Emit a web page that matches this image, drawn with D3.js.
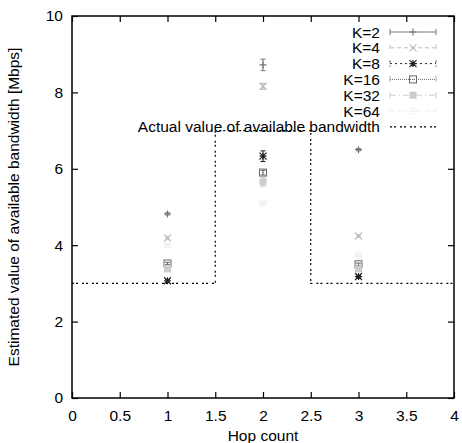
<!DOCTYPE html>
<html>
<head>
<meta charset="utf-8">
<script src="https://cdn.jsdelivr.net/npm/d3@7"></script>
<style>
    body { margin: 0; background: #fff; }
    text { font-family: "Liberation Sans", Arial, sans-serif; }
</style>
</head>
<body>
<script>
//hop count categories
var hops = [1, 2, 3];

//series labels
var seriesNames = ["K=2", "K=4", "K=8", "K=16", "K=32", "K=64"];

//estimated values per series (one per hop)
var k2 = [4.82, 8.72, 6.50],
    k4 = [4.19, 8.16, 4.24],
    k8 = [3.07, 6.33, 3.18],
    k16 = [3.52, 5.90, 3.50],
    k32 = [3.38, 5.66, 3.38],
    k64 = [4.02, 5.10, 3.73];

//error half widths per series
var k2Err = [0.03, 0.15, 0.03],
    k4Err = [0.03, 0.08, 0.03],
    k8Err = [0.03, 0.14, 0.03],
    k16Err = [0.03, 0.06, 0.03],
    k32Err = [0.05, 0.12, 0.05],
    k64Err = [0.02, 0.03, 0.02];

//actual available bandwidth (step line)
var actualX = [0, 1.5, 1.5, 2.5, 2.5, 4],
    actualY = [3, 3, 7, 7, 3, 3];

//tick values
var xTicks = [0, 0.5, 1, 1.5, 2, 2.5, 3, 3.5, 4],
    yTicks = [0, 2, 4, 6, 8, 10];

var width = 462, height = 443;
var margin = {left: 72, right: 8, top: 16, bottom: 45};
var fontSize = 15.5;

var svg = d3.select("body").append("svg")
    .attr("width", width)
    .attr("height", height);

var x = d3.scaleLinear().domain([0, 4]).range([margin.left, width - margin.right]);
var y = d3.scaleLinear().domain([0, 10]).range([height - margin.bottom, margin.top]);

//series styles
var styles = [
    {color: "#777", dash: null, marker: "plus"},
    {color: "#bbb", dash: "4,3", marker: "cross"},
    {color: "#222", dash: "2,3", marker: "star"},
    {color: "#666", dash: "1,1", marker: "square"},
    {color: "#ccc", dash: "6,3,1,3", marker: "fsquare"},
    {color: "#eee", dash: "4,3", marker: "circle"}
];

var values = [k2, k4, k8, k16, k32, k64];
var errs = [k2Err, k4Err, k8Err, k16Err, k32Err, k64Err];

function drawMarker(g, type, cx, cy, color){
    var s = 3.5;
    if (type == "plus"){
        g.append("path").attr("d", "M" + (cx - s) + "," + cy + "H" + (cx + s) + "M" + cx + "," + (cy - s) + "V" + (cy + s))
            .attr("stroke", color).attr("stroke-width", 1.2).attr("fill", "none");
    } else if (type == "cross"){
        g.append("path").attr("d", "M" + (cx - s) + "," + (cy - s) + "L" + (cx + s) + "," + (cy + s) + "M" + (cx - s) + "," + (cy + s) + "L" + (cx + s) + "," + (cy - s))
            .attr("stroke", color).attr("stroke-width", 1.2).attr("fill", "none");
    } else if (type == "star"){
        g.append("path").attr("d", "M" + (cx - s) + "," + cy + "H" + (cx + s) + "M" + cx + "," + (cy - s) + "V" + (cy + s) +
                "M" + (cx - s) + "," + (cy - s) + "L" + (cx + s) + "," + (cy + s) + "M" + (cx - s) + "," + (cy + s) + "L" + (cx + s) + "," + (cy - s))
            .attr("stroke", color).attr("stroke-width", 1.2).attr("fill", "none");
    } else if (type == "square"){
        g.append("rect").attr("x", cx - s).attr("y", cy - s).attr("width", 2 * s).attr("height", 2 * s)
            .attr("stroke", color).attr("stroke-width", 1).attr("fill", "none");
        g.append("rect").attr("x", cx - 0.5).attr("y", cy - 0.5).attr("width", 1).attr("height", 1).attr("fill", color);
    } else if (type == "fsquare"){
        g.append("rect").attr("x", cx - s).attr("y", cy - s).attr("width", 2 * s).attr("height", 2 * s)
            .attr("fill", color);
    } else if (type == "circle"){
        g.append("circle").attr("cx", cx).attr("cy", cy).attr("r", s)
            .attr("stroke", color).attr("stroke-width", 1).attr("fill", "none");
        g.append("path").attr("d", "M" + (cx - 2) + "," + cy + "H" + (cx + 2))
            .attr("stroke", color).attr("stroke-width", 1);
    }
}

//actual bandwidth step line
var line = d3.line()
    .x(function(d){ return x(d[0]); })
    .y(function(d){ return y(d[1]); });

svg.append("path")
    .datum(d3.zip(actualX, actualY))
    .attr("d", line)
    .attr("fill", "none")
    .attr("stroke", "#000")
    .attr("stroke-width", 1.2)
    .attr("stroke-dasharray", "2,2,2,4");

//error bars and markers
values.forEach(function(vals, si){
    var st = styles[si];
    var g = svg.append("g").attr("class", "series");
    vals.forEach(function(v, i){
        var cx = x(hops[i]);
        var lo = y(v - errs[si][i]), hi = y(v + errs[si][i]);
        g.append("path")
            .attr("d", "M" + cx + "," + lo + "V" + hi + "M" + (cx - 2.5) + "," + lo + "H" + (cx + 2.5) + "M" + (cx - 2.5) + "," + hi + "H" + (cx + 2.5))
            .attr("stroke", st.color).attr("stroke-width", 1).attr("fill", "none");
        drawMarker(g, st.marker, cx, y(v), st.color);
    });
});

//axes with inward ticks, mirrored
var xAxis = svg.append("g")
    .attr("transform", "translate(0," + y(0) + ")")
    .call(d3.axisBottom(x).tickValues(xTicks).tickSizeInner(-6).tickSizeOuter(0).tickPadding(12)
        .tickFormat(function(d){ return d3.format("")(d); }));
var yAxis = svg.append("g")
    .attr("transform", "translate(" + x(0) + ",0)")
    .call(d3.axisLeft(y).tickValues(yTicks).tickSizeInner(-6).tickSizeOuter(0).tickPadding(9));
svg.append("g")
    .attr("transform", "translate(0," + y(10) + ")")
    .call(d3.axisTop(x).tickValues(xTicks).tickSizeInner(-6).tickSizeOuter(0).tickFormat(""));
svg.append("g")
    .attr("transform", "translate(" + x(4) + ",0)")
    .call(d3.axisRight(y).tickValues(yTicks).tickSizeInner(-6).tickSizeOuter(0).tickFormat(""));

svg.selectAll(".domain").remove();
svg.selectAll(".tick line").attr("stroke", "#000").attr("stroke-width", 1.2);
svg.selectAll(".tick text").attr("font-size", fontSize).attr("fill", "#000")
    .style("font-family", "'Liberation Sans', Arial, sans-serif");

//frame
svg.append("rect")
    .attr("x", x(0)).attr("y", y(10))
    .attr("width", x(4) - x(0)).attr("height", y(0) - y(10))
    .attr("fill", "none").attr("stroke", "#000").attr("stroke-width", 1.5);

//legend
var legendNames = seriesNames.concat(["Actual value of available bandwidth"]);
var legend = svg.append("g").attr("class", "legend");
legendNames.forEach(function(name, i){
    var ly = 32 + i * 15.8;
    legend.append("text")
        .attr("x", 380).attr("y", ly + 5.5)
        .attr("text-anchor", "end")
        .attr("font-size", fontSize)
        .text(name);
    if (i < 6){
        var st = styles[i];
        legend.append("path")
            .attr("d", "M390," + ly + "H436M390," + (ly - 3) + "V" + (ly + 3) + "M436," + (ly - 3) + "V" + (ly + 3))
            .attr("stroke", st.color).attr("stroke-width", 1)
            .attr("stroke-dasharray", st.dash).attr("fill", "none");
        drawMarker(legend, st.marker, 413, ly, st.color);
    } else {
        legend.append("path")
            .attr("d", "M390," + ly + "H436")
            .attr("stroke", "#000").attr("stroke-width", 1.2)
            .attr("stroke-dasharray", "2,2,2,4");
    }
});

//axis titles
svg.append("text")
    .attr("x", (x(0) + x(4)) / 2).attr("y", 441)
    .attr("text-anchor", "middle")
    .attr("font-size", fontSize)
    .text("Hop count");
svg.append("text")
    .attr("transform", "translate(19," + (y(5)) + ") rotate(-90)")
    .attr("text-anchor", "middle")
    .attr("font-size", fontSize)
    .text("Estimated value of available bandwidth [Mbps]");
</script>
</body>
</html>
